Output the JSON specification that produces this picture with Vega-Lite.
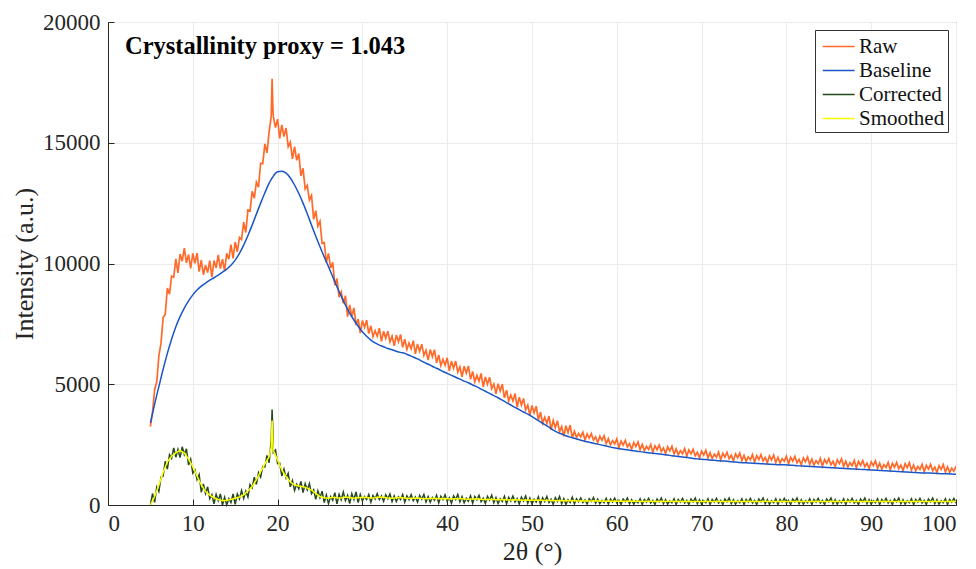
{
"$schema": "https://vega.github.io/schema/vega-lite/v6.json",
"width": 848, "height": 483, "autosize": "none",
"padding": {"left": 108, "top": 22, "right": 20, "bottom": 64},
"background": "white",
"config": {
  "font": "Liberation Serif",
  "view": {"stroke": "#262626", "strokeWidth": 1},
  "axis": {"domainColor": "#262626", "tickColor": "#262626", "tickSize": -6, "grid": true, "gridColor": "#ebebeb", "gridWidth": 1,
    "labelFont": "Liberation Serif", "labelFontSize": 23, "labelColor": "#262626", "titleFont": "Liberation Serif", "titleFontSize": 26, "titleFontWeight": "normal", "titleColor": "#262626"},
  "legend": {"orient": "top-right", "offset": 8, "strokeColor": "#333333", "fillColor": "white", "padding": 3, "labelFont": "Liberation Serif", "labelFontSize": 21, "labelColor": "#111111", "symbolType": "M-0.7,0H1.85", "symbolSize": 625, "symbolStrokeWidth": 1.5, "symbolFillColor": "transparent", "rowPadding": 0, "labelOffset": 14}
},
"datasets": {
"noisy": [
{"x":5,"r":3250,"c":0},{"x":5.25,"r":3850,"c":475},{"x":5.5,"r":4775,"c":110},{"x":5.75,"r":5100,"c":740},
{"x":6,"r":6175,"c":560},{"x":6.25,"r":6700,"c":1150},{"x":6.5,"r":7750,"c":1200},{"x":6.75,"r":7900,"c":1810},
{"x":7,"r":8980,"c":1490},{"x":7.25,"r":8730,"c":2080},{"x":7.5,"r":9480,"c":1930},{"x":7.75,"r":9435,"c":2360},
{"x":8,"r":10190,"c":1980},{"x":8.25,"r":9610,"c":2300},{"x":8.5,"r":10390,"c":1960},{"x":8.75,"r":10095,"c":2410},
{"x":9,"r":10640,"c":2090},{"x":9.25,"r":10025,"c":2325},{"x":9.5,"r":10370,"c":1660},{"x":9.75,"r":9795,"c":1895},
{"x":10,"r":10420,"c":1320},{"x":10.25,"r":10005,"c":1455},{"x":10.5,"r":10430,"c":1050},{"x":10.75,"r":9665,"c":1255},
{"x":11,"r":10140,"c":530},{"x":11.25,"r":9535,"c":875},{"x":11.5,"r":9930,"c":470},{"x":11.75,"r":9625,"c":755},
{"x":12,"r":10120,"c":260},{"x":12.25,"r":9440,"c":430},{"x":12.5,"r":10120,"c":50},{"x":12.75,"r":9820,"c":440},
{"x":13,"r":10360,"c":180},{"x":13.25,"r":9790,"c":455},{"x":13.5,"r":10180,"c":0},{"x":13.75,"r":9700,"c":315},
{"x":14,"r":10420,"c":0},{"x":14.25,"r":10180,"c":265},{"x":14.5,"r":10780,"c":105},{"x":14.75,"r":10215,"c":455},
{"x":15,"r":10890,"c":30},{"x":15.25,"r":10485,"c":455},{"x":15.5,"r":11080,"c":255},{"x":15.75,"r":10995,"c":600},
{"x":16,"r":11710,"c":270},{"x":16.25,"r":11285,"c":575},{"x":16.5,"r":12220,"c":330},{"x":16.75,"r":12185,"c":845},
{"x":17,"r":12990,"c":710},{"x":17.25,"r":12700,"c":1155},{"x":17.5,"r":13370,"c":850},{"x":17.75,"r":13160,"c":1340},
{"x":18,"r":14150,"c":1155},{"x":18.25,"r":14130,"c":1590},{"x":18.5,"r":14950,"c":1575},{"x":18.75,"r":14580,"c":2050},
{"x":19,"r":15450,"c":1750},{"x":19.25,"r":16100,"c":2700},{"x":19.35,"r":17650,"c":3950},{"x":19.45,"r":16400,"c":3000},
{"x":19.5,"r":16080,"c":2175},{"x":19.75,"r":15630,"c":2275},{"x":20,"r":15980,"c":1710},{"x":20.25,"r":15180,"c":1730},
{"x":20.5,"r":15740,"c":1200},{"x":20.75,"r":15255,"c":1485},{"x":21,"r":15610,"c":1120},{"x":21.25,"r":14835,"c":1310},
{"x":21.5,"r":15020,"c":750},{"x":21.75,"r":14330,"c":1015},{"x":22,"r":14840,"c":605},{"x":22.25,"r":14275,"c":860},
{"x":22.5,"r":14550,"c":665},{"x":22.75,"r":13625,"c":975},{"x":23,"r":13940,"c":510},{"x":23.25,"r":13085,"c":880},
{"x":23.5,"r":13230,"c":625},{"x":23.75,"r":12625,"c":885},{"x":24,"r":12820,"c":470},{"x":24.25,"r":11825,"c":625},
{"x":24.5,"r":12190,"c":230},{"x":24.75,"r":11550,"c":590},{"x":25,"r":11750,"c":300},{"x":25.25,"r":10830,"c":575},
{"x":25.5,"r":10870,"c":100},{"x":25.75,"r":10045,"c":415},{"x":26,"r":10420,"c":55},{"x":26.25,"r":9815,"c":350},
{"x":26.5,"r":10050,"c":195},{"x":26.75,"r":9095,"c":510},{"x":27,"r":9380,"c":50},{"x":27.25,"r":8605,"c":445},
{"x":27.5,"r":8830,"c":215},{"x":27.75,"r":8350,"c":535},{"x":28,"r":8670,"c":180},{"x":28.25,"r":7800,"c":395},
{"x":28.5,"r":8290,"c":60},{"x":28.75,"r":7805,"c":470},{"x":29,"r":8160,"c":230},{"x":29.25,"r":7450,"c":540},
{"x":29.5,"r":7700,"c":100},{"x":29.75,"r":7120,"c":435},{"x":30,"r":7645,"c":165},{"x":30.25,"r":7355,"c":350},
{"x":30.5,"r":7650,"c":225},{"x":30.75,"r":7100,"c":435},{"x":31,"r":7420,"c":120},{"x":31.25,"r":6970,"c":395},
{"x":31.5,"r":7215,"c":250},{"x":31.75,"r":6990,"c":470},{"x":32,"r":7325,"c":230},{"x":32.25,"r":6780,"c":375},
{"x":32.5,"r":7190,"c":150},{"x":32.75,"r":6900,"c":425},{"x":33,"r":7200,"c":255},{"x":33.25,"r":6755,"c":455},
{"x":33.5,"r":6985,"c":145},{"x":33.75,"r":6590,"c":375},{"x":34,"r":7035,"c":145},{"x":34.25,"r":6755,"c":340},
{"x":34.5,"r":7060,"c":225},{"x":34.75,"r":6530,"c":435},{"x":35,"r":6870,"c":120},{"x":35.25,"r":6440,"c":380},
{"x":35.5,"r":6705,"c":220},{"x":35.75,"r":6475,"c":430},{"x":36,"r":6805,"c":180},{"x":36.25,"r":6260,"c":335},
{"x":36.5,"r":6670,"c":120},{"x":36.75,"r":6370,"c":400},{"x":37,"r":6660,"c":235},{"x":37.25,"r":6195,"c":435},
{"x":37.5,"r":6405,"c":125},{"x":37.75,"r":6000,"c":350},{"x":38,"r":6435,"c":115},{"x":38.25,"r":6140,"c":310},
{"x":38.5,"r":6430,"c":195},{"x":38.75,"r":5885,"c":405},{"x":39,"r":6210,"c":90},{"x":39.25,"r":5775,"c":365},
{"x":39.5,"r":6035,"c":220},{"x":39.75,"r":5785,"c":420},{"x":40,"r":6095,"c":160},{"x":40.25,"r":5550,"c":305},
{"x":40.5,"r":5960,"c":80},{"x":40.75,"r":5665,"c":375},{"x":41,"r":5960,"c":225},{"x":41.25,"r":5500,"c":435},
{"x":41.5,"r":5715,"c":135},{"x":41.75,"r":5310,"c":345},{"x":42,"r":5745,"c":95},{"x":42.25,"r":5460,"c":280},
{"x":42.5,"r":5760,"c":155},{"x":42.75,"r":5210,"c":380},{"x":43,"r":5530,"c":80},{"x":43.25,"r":5100,"c":355},
{"x":43.5,"r":5365,"c":210},{"x":43.75,"r":5125,"c":405},{"x":44,"r":5445,"c":140},{"x":44.25,"r":4895,"c":285},
{"x":44.5,"r":5300,"c":60},{"x":44.75,"r":5000,"c":355},{"x":45,"r":5290,"c":205},{"x":45.25,"r":4815,"c":405},
{"x":45.5,"r":5015,"c":95},{"x":45.75,"r":4600,"c":310},{"x":46,"r":5025,"c":65},{"x":46.25,"r":4720,"c":260},
{"x":46.5,"r":5000,"c":145},{"x":46.75,"r":4440,"c":360},{"x":47,"r":4750,"c":50},{"x":47.25,"r":4305,"c":315},
{"x":47.5,"r":4555,"c":160},{"x":47.75,"r":4305,"c":370},{"x":48,"r":4615,"c":120},{"x":48.25,"r":4060,"c":265},
{"x":48.5,"r":4460,"c":40},{"x":48.75,"r":4140,"c":325},{"x":49,"r":4410,"c":165},{"x":49.25,"r":3935,"c":375},
{"x":49.5,"r":4135,"c":75},{"x":49.75,"r":3710,"c":290},{"x":50,"r":4125,"c":45},{"x":50.25,"r":3815,"c":240},
{"x":50.5,"r":4090,"c":125},{"x":50.75,"r":3530,"c":340},{"x":51,"r":3840,"c":30},{"x":51.25,"r":3390,"c":295},
{"x":51.5,"r":3635,"c":140},{"x":51.75,"r":3380,"c":350},{"x":52,"r":3685,"c":100},{"x":52.25,"r":3115,"c":245},
{"x":52.5,"r":3500,"c":20},{"x":52.75,"r":3200,"c":305},{"x":53,"r":3490,"c":145},{"x":53.25,"r":3030,"c":355},
{"x":53.5,"r":3245,"c":55},{"x":53.75,"r":2845,"c":270},{"x":54,"r":3285,"c":25},{"x":54.25,"r":3005,"c":220},
{"x":54.5,"r":3310,"c":105},{"x":54.75,"r":2775,"c":320},{"x":55,"r":3055,"c":50},{"x":55.25,"r":2795,"c":255},
{"x":55.5,"r":2965,"c":130},{"x":55.75,"r":2820,"c":290},{"x":56,"r":3015,"c":100},{"x":56.25,"r":2690,"c":215},
{"x":56.5,"r":2940,"c":40},{"x":56.75,"r":2770,"c":260},{"x":57,"r":2955,"c":145},{"x":57.25,"r":2685,"c":305},
{"x":57.5,"r":2820,"c":75},{"x":57.75,"r":2580,"c":240},{"x":58,"r":2850,"c":55},{"x":58.25,"r":2680,"c":190},
{"x":58.5,"r":2870,"c":95},{"x":58.75,"r":2545,"c":270},{"x":59,"r":2745,"c":40},{"x":59.25,"r":2490,"c":245},
{"x":59.5,"r":2665,"c":120},{"x":59.75,"r":2530,"c":280},{"x":60,"r":2735,"c":90},{"x":60.25,"r":2385,"c":194},
{"x":60.5,"r":2642,"c":25},{"x":60.75,"r":2479,"c":246},{"x":61,"r":2673,"c":129},{"x":61.25,"r":2403,"c":285},
{"x":61.5,"r":2541,"c":51},{"x":61.75,"r":2310,"c":220},{"x":62,"r":2589,"c":38},{"x":62.25,"r":2421,"c":181},
{"x":62.5,"r":2610,"c":90},{"x":62.75,"r":2294,"c":259},{"x":63,"r":2505,"c":25},{"x":63.25,"r":2252,"c":233},
{"x":63.5,"r":2424,"c":116},{"x":63.75,"r":2295,"c":272},{"x":64,"r":2506,"c":77},{"x":64.25,"r":2190,"c":194},
{"x":64.5,"r":2452,"c":25},{"x":64.75,"r":2289,"c":246},{"x":65,"r":2483,"c":129},{"x":65.25,"r":2218,"c":285},
{"x":65.5,"r":2361,"c":51},{"x":65.75,"r":2130,"c":220},{"x":66,"r":2409,"c":38},{"x":66.25,"r":2241,"c":181},
{"x":66.5,"r":2430,"c":90},{"x":66.75,"r":2114,"c":259},{"x":67,"r":2325,"c":25},{"x":67.25,"r":2077,"c":233},
{"x":67.5,"r":2254,"c":116},{"x":67.75,"r":2125,"c":272},{"x":68,"r":2336,"c":77},{"x":68.25,"r":2020,"c":194},
{"x":68.5,"r":2282,"c":25},{"x":68.75,"r":2114,"c":246},{"x":69,"r":2303,"c":129},{"x":69.25,"r":2038,"c":285},
{"x":69.5,"r":2181,"c":51},{"x":69.75,"r":1950,"c":220},{"x":70,"r":2229,"c":38},{"x":70.25,"r":2071,"c":181},
{"x":70.5,"r":2270,"c":90},{"x":70.75,"r":1954,"c":259},{"x":71,"r":2165,"c":25},{"x":71.25,"r":1922,"c":233},
{"x":71.5,"r":2104,"c":116},{"x":71.75,"r":1975,"c":272},{"x":72,"r":2186,"c":77},{"x":72.25,"r":1875,"c":194},
{"x":72.5,"r":2142,"c":25},{"x":72.75,"r":1984,"c":246},{"x":73,"r":2183,"c":129},{"x":73.25,"r":1918,"c":285},
{"x":73.5,"r":2061,"c":51},{"x":73.75,"r":1835,"c":220},{"x":74,"r":2119,"c":38},{"x":74.25,"r":1956,"c":181},
{"x":74.5,"r":2150,"c":90},{"x":74.75,"r":1839,"c":259},{"x":75,"r":2055,"c":25},{"x":75.25,"r":1812,"c":233},
{"x":75.5,"r":1994,"c":116},{"x":75.75,"r":1870,"c":272},{"x":76,"r":2086,"c":77},{"x":76.25,"r":1775,"c":194},
{"x":76.5,"r":2042,"c":25},{"x":76.75,"r":1884,"c":246},{"x":77,"r":2083,"c":129},{"x":77.25,"r":1823,"c":285},
{"x":77.5,"r":1971,"c":51},{"x":77.75,"r":1745,"c":220},{"x":78,"r":2029,"c":38},{"x":78.25,"r":1871,"c":181},
{"x":78.5,"r":2070,"c":90},{"x":78.75,"r":1759,"c":259},{"x":79,"r":1975,"c":25},{"x":79.25,"r":1737,"c":233},
{"x":79.5,"r":1924,"c":116},{"x":79.75,"r":1805,"c":272},{"x":80,"r":2016,"c":77},{"x":80.25,"r":1705,"c":194},
{"x":80.5,"r":1972,"c":25},{"x":80.75,"r":1814,"c":246},{"x":81,"r":2013,"c":129},{"x":81.25,"r":1748,"c":285},
{"x":81.5,"r":1891,"c":51},{"x":81.75,"r":1665,"c":220},{"x":82,"r":1949,"c":38},{"x":82.25,"r":1791,"c":181},
{"x":82.5,"r":1990,"c":90},{"x":82.75,"r":1679,"c":259},{"x":83,"r":1895,"c":25},{"x":83.25,"r":1652,"c":233},
{"x":83.5,"r":1834,"c":116},{"x":83.75,"r":1710,"c":272},{"x":84,"r":1926,"c":77},{"x":84.25,"r":1615,"c":194},
{"x":84.5,"r":1882,"c":25},{"x":84.75,"r":1724,"c":246},{"x":85,"r":1923,"c":129},{"x":85.25,"r":1663,"c":285},
{"x":85.5,"r":1811,"c":51},{"x":85.75,"r":1585,"c":220},{"x":86,"r":1869,"c":38},{"x":86.25,"r":1711,"c":181},
{"x":86.5,"r":1910,"c":90},{"x":86.75,"r":1599,"c":259},{"x":87,"r":1815,"c":25},{"x":87.25,"r":1572,"c":233},
{"x":87.5,"r":1754,"c":116},{"x":87.75,"r":1630,"c":272},{"x":88,"r":1846,"c":77},{"x":88.25,"r":1535,"c":194},
{"x":88.5,"r":1802,"c":25},{"x":88.75,"r":1644,"c":246},{"x":89,"r":1843,"c":129},{"x":89.25,"r":1583,"c":285},
{"x":89.5,"r":1731,"c":51},{"x":89.75,"r":1505,"c":220},{"x":90,"r":1789,"c":38},{"x":90.25,"r":1631,"c":181},
{"x":90.5,"r":1830,"c":90},{"x":90.75,"r":1519,"c":259},{"x":91,"r":1735,"c":25},{"x":91.25,"r":1492,"c":233},
{"x":91.5,"r":1674,"c":116},{"x":91.75,"r":1550,"c":272},{"x":92,"r":1766,"c":77},{"x":92.25,"r":1455,"c":194},
{"x":92.5,"r":1722,"c":25},{"x":92.75,"r":1564,"c":246},{"x":93,"r":1763,"c":129},{"x":93.25,"r":1503,"c":285},
{"x":93.5,"r":1651,"c":51},{"x":93.75,"r":1425,"c":220},{"x":94,"r":1709,"c":38},{"x":94.25,"r":1551,"c":181},
{"x":94.5,"r":1750,"c":90},{"x":94.75,"r":1439,"c":259},{"x":95,"r":1655,"c":25},{"x":95.25,"r":1412,"c":233},
{"x":95.5,"r":1594,"c":116},{"x":95.75,"r":1470,"c":272},{"x":96,"r":1686,"c":77},{"x":96.25,"r":1375,"c":194},
{"x":96.5,"r":1642,"c":25},{"x":96.75,"r":1484,"c":246},{"x":97,"r":1683,"c":129},{"x":97.25,"r":1423,"c":285},
{"x":97.5,"r":1571,"c":51},{"x":97.75,"r":1346,"c":220},{"x":98,"r":1631,"c":38},{"x":98.25,"r":1474,"c":181},
{"x":98.5,"r":1674,"c":90},{"x":98.75,"r":1364,"c":259},{"x":99,"r":1581,"c":25},{"x":99.25,"r":1339,"c":233},
{"x":99.5,"r":1522,"c":116},{"x":99.75,"r":1399,"c":272},{"x":100,"r":1616,"c":77}
],
"smooth": [
{"x":5,"b":3400,"s":0},{"x":5.5,"b":4180,"s":350},{"x":6,"b":4900,"s":830},{"x":6.5,"b":5620,"s":1350},{"x":7,"b":6280,"s":1790},
{"x":7.5,"b":6860,"s":2020},{"x":8,"b":7380,"s":2160},{"x":8.5,"b":7800,"s":2260},{"x":9,"b":8150,"s":2150},{"x":9.5,"b":8450,"s":1900},
{"x":10,"b":8700,"s":1590},{"x":10.5,"b":8900,"s":1200},{"x":11,"b":9060,"s":830},{"x":11.5,"b":9190,"s":560},{"x":12,"b":9310,"s":410},
{"x":12.5,"b":9410,"s":300},{"x":13,"b":9520,"s":230},{"x":13.5,"b":9640,"s":180},{"x":14,"b":9770,"s":200},{"x":14.5,"b":9930,"s":230},
{"x":15,"b":10140,"s":280},{"x":15.5,"b":10420,"s":330},{"x":16,"b":10760,"s":420},{"x":16.5,"b":11160,"s":580},{"x":17,"b":11590,"s":760},
{"x":17.5,"b":12050,"s":1050},{"x":18,"b":12500,"s":1380},{"x":18.5,"b":12930,"s":1700},{"x":19,"b":13330,"s":2000},{"x":19.25,"b":13480,"s":2400},
{"x":19.35,"b":13540,"s":3500},{"x":19.45,"b":13590,"s":2600},{"x":19.5,"b":13620,"s":2250},{"x":20,"b":13800,"s":1860},{"x":20.5,"b":13820,"s":1450},
{"x":21,"b":13740,"s":1170},{"x":21.5,"b":13540,"s":950},{"x":22,"b":13250,"s":830},{"x":22.5,"b":12900,"s":790},{"x":23,"b":12500,"s":760},
{"x":23.5,"b":12060,"s":700},{"x":24,"b":11590,"s":620},{"x":24.5,"b":11130,"s":480},{"x":25,"b":10690,"s":350},{"x":25.5,"b":10270,"s":300},
{"x":26,"b":9870,"s":280},{"x":26.5,"b":9450,"s":320},{"x":27,"b":9040,"s":300},{"x":27.5,"b":8650,"s":290},{"x":28,"b":8280,"s":330},
{"x":28.5,"b":7950,"s":310},{"x":29,"b":7660,"s":280},{"x":29.5,"b":7400,"s":300},{"x":30,"b":7170,"s":320},{"x":30.5,"b":6990,"s":310},
{"x":31,"b":6830,"s":290},{"x":31.5,"b":6710,"s":300},{"x":32,"b":6620,"s":330},{"x":32.5,"b":6550,"s":320},{"x":33,"b":6480,"s":290},
{"x":33.5,"b":6430,"s":280},{"x":34,"b":6370,"s":300},{"x":34.5,"b":6320,"s":310},{"x":35,"b":6280,"s":290},{"x":35.5,"b":6200,"s":270},
{"x":36,"b":6130,"s":280},{"x":36.5,"b":6050,"s":290},{"x":37,"b":5960,"s":270},{"x":37.5,"b":5870,"s":260},{"x":38,"b":5790,"s":270},
{"x":38.5,"b":5700,"s":280},{"x":39,"b":5620,"s":260},{"x":39.5,"b":5530,"s":270},{"x":40,"b":5450,"s":260},{"x":40.5,"b":5370,"s":250},
{"x":41,"b":5290,"s":260},{"x":41.5,"b":5210,"s":270},{"x":42,"b":5130,"s":250},{"x":42.5,"b":5060,"s":240},{"x":43,"b":4970,"s":250},
{"x":43.5,"b":4890,"s":260},{"x":44,"b":4800,"s":240},{"x":44.5,"b":4710,"s":230},{"x":45,"b":4620,"s":240},{"x":45.5,"b":4530,"s":230},
{"x":46,"b":4440,"s":220},{"x":46.5,"b":4340,"s":230},{"x":47,"b":4240,"s":220},{"x":47.5,"b":4140,"s":210},{"x":48,"b":4040,"s":220},
{"x":48.5,"b":3950,"s":210},{"x":49,"b":3850,"s":200},{"x":49.5,"b":3760,"s":210},{"x":50,"b":3660,"s":200},{"x":50.5,"b":3550,"s":210},
{"x":51,"b":3440,"s":200},{"x":51.5,"b":3330,"s":190},{"x":52,"b":3220,"s":200},{"x":52.5,"b":3100,"s":190},{"x":53,"b":3010,"s":180},
{"x":53.5,"b":2940,"s":190},{"x":54,"b":2870,"s":180},{"x":54.5,"b":2810,"s":190},{"x":55,"b":2760,"s":180},{"x":55.5,"b":2710,"s":170},
{"x":56,"b":2660,"s":180},{"x":56.5,"b":2620,"s":170},{"x":57,"b":2580,"s":170},{"x":57.5,"b":2540,"s":180},{"x":58,"b":2500,"s":170},
{"x":58.5,"b":2460,"s":160},{"x":59,"b":2420,"s":170},{"x":59.5,"b":2380,"s":160},{"x":60,"b":2350,"s":170},{"x":60.5,"b":2320,"s":160},
{"x":61,"b":2300,"s":160},{"x":61.5,"b":2270,"s":170},{"x":62,"b":2250,"s":160},{"x":62.5,"b":2220,"s":160},{"x":63,"b":2200,"s":150},
{"x":63.5,"b":2170,"s":160},{"x":64,"b":2150,"s":160},{"x":64.5,"b":2130,"s":150},{"x":65,"b":2110,"s":160},{"x":65.5,"b":2090,"s":150},
{"x":66,"b":2070,"s":160},{"x":66.5,"b":2040,"s":160},{"x":67,"b":2020,"s":150},{"x":67.5,"b":2000,"s":160},{"x":68,"b":1980,"s":150},
{"x":68.5,"b":1960,"s":160},{"x":69,"b":1930,"s":150},{"x":69.5,"b":1910,"s":150},{"x":70,"b":1890,"s":150},{"x":70.5,"b":1880,"s":160},
{"x":71,"b":1860,"s":150},{"x":71.5,"b":1850,"s":150},{"x":72,"b":1830,"s":160},{"x":72.5,"b":1820,"s":150},{"x":73,"b":1810,"s":150},
{"x":73.5,"b":1790,"s":160},{"x":74,"b":1780,"s":150},{"x":74.5,"b":1760,"s":150},{"x":75,"b":1750,"s":150},{"x":75.5,"b":1740,"s":160},
{"x":76,"b":1730,"s":150},{"x":76.5,"b":1720,"s":150},{"x":77,"b":1710,"s":150},{"x":77.5,"b":1700,"s":160},{"x":78,"b":1690,"s":150},
{"x":78.5,"b":1680,"s":150},{"x":79,"b":1670,"s":150},{"x":79.5,"b":1670,"s":160},{"x":80,"b":1660,"s":150},{"x":80.5,"b":1650,"s":150},
{"x":81,"b":1640,"s":150},{"x":81.5,"b":1620,"s":160},{"x":82,"b":1610,"s":150},{"x":82.5,"b":1600,"s":150},{"x":83,"b":1590,"s":150},
{"x":83.5,"b":1580,"s":160},{"x":84,"b":1570,"s":150},{"x":84.5,"b":1560,"s":150},{"x":85,"b":1550,"s":150},{"x":85.5,"b":1540,"s":160},
{"x":86,"b":1530,"s":150},{"x":86.5,"b":1520,"s":150},{"x":87,"b":1510,"s":150},{"x":87.5,"b":1500,"s":160},{"x":88,"b":1490,"s":150},
{"x":88.5,"b":1480,"s":150},{"x":89,"b":1470,"s":150},{"x":89.5,"b":1460,"s":160},{"x":90,"b":1450,"s":150},{"x":90.5,"b":1440,"s":150},
{"x":91,"b":1430,"s":150},{"x":91.5,"b":1420,"s":160},{"x":92,"b":1410,"s":150},{"x":92.5,"b":1400,"s":150},{"x":93,"b":1390,"s":150},
{"x":93.5,"b":1380,"s":160},{"x":94,"b":1370,"s":150},{"x":94.5,"b":1360,"s":150},{"x":95,"b":1350,"s":150},{"x":95.5,"b":1340,"s":160},
{"x":96,"b":1330,"s":150},{"x":96.5,"b":1330,"s":150},{"x":97,"b":1320,"s":150},{"x":97.5,"b":1310,"s":160},{"x":98,"b":1300,"s":150},
{"x":98.5,"b":1290,"s":150},{"x":99,"b":1290,"s":150},{"x":99.5,"b":1280,"s":160},{"x":100,"b":1270,"s":150}
],
"note": [{"x": 2, "ty": 18950, "label": "Crystallinity proxy = 1.043"}]
},
"encoding": {
  "x": {"field": "x", "type": "quantitative", "scale": {"domain": [0, 100], "nice": false},
    "axis": {"title": "2θ (°)", "values": [0,10,20,30,40,50,60,70,80,90,100], "labelPadding": 13, "titlePadding": 3}}
},
"layer": [
  {"data": {"name": "noisy"}, "mark": {"type": "line", "strokeWidth": 1.7, "clip": true},
   "encoding": {"y": {"field": "r", "type": "quantitative", "scale": {"domain": [0, 20000], "nice": false},
       "axis": {"title": "Intensity (a.u.)", "values": [0,5000,10000,15000,20000], "format": "d", "labelPadding": 14, "titlePadding": 5}},
     "color": {"datum": "Raw", "type": "nominal", "scale": {"domain": ["Raw","Baseline","Corrected","Smoothed"], "range": ["#ff6a2a","#1a56c8","#264a1e","#ffff00"]},
       "legend": {"title": null}}}},
  {"data": {"name": "smooth"}, "mark": {"type": "line", "strokeWidth": 1.5, "interpolate": "monotone"},
   "encoding": {"y": {"field": "b", "type": "quantitative", "axis": {"title": "Intensity (a.u.)"}}, "color": {"datum": "Baseline", "type": "nominal"}}},
  {"data": {"name": "noisy"}, "mark": {"type": "line", "strokeWidth": 1.5},
   "encoding": {"y": {"field": "c", "type": "quantitative", "axis": {"title": "Intensity (a.u.)"}}, "color": {"datum": "Corrected", "type": "nominal"}}},
  {"data": {"name": "smooth"}, "mark": {"type": "line", "strokeWidth": 1.5},
   "encoding": {"y": {"field": "s", "type": "quantitative", "axis": {"title": "Intensity (a.u.)"}}, "color": {"datum": "Smoothed", "type": "nominal"}}},
  {"data": {"name": "note"},
   "mark": {"type": "text", "align": "left", "baseline": "middle", "font": "Liberation Serif", "fontSize": 24.5, "fontWeight": "bold", "color": "#000000"},
   "encoding": {"y": {"field": "ty", "type": "quantitative", "axis": {"title": "Intensity (a.u.)"}}, "text": {"field": "label"}}}
]
}
